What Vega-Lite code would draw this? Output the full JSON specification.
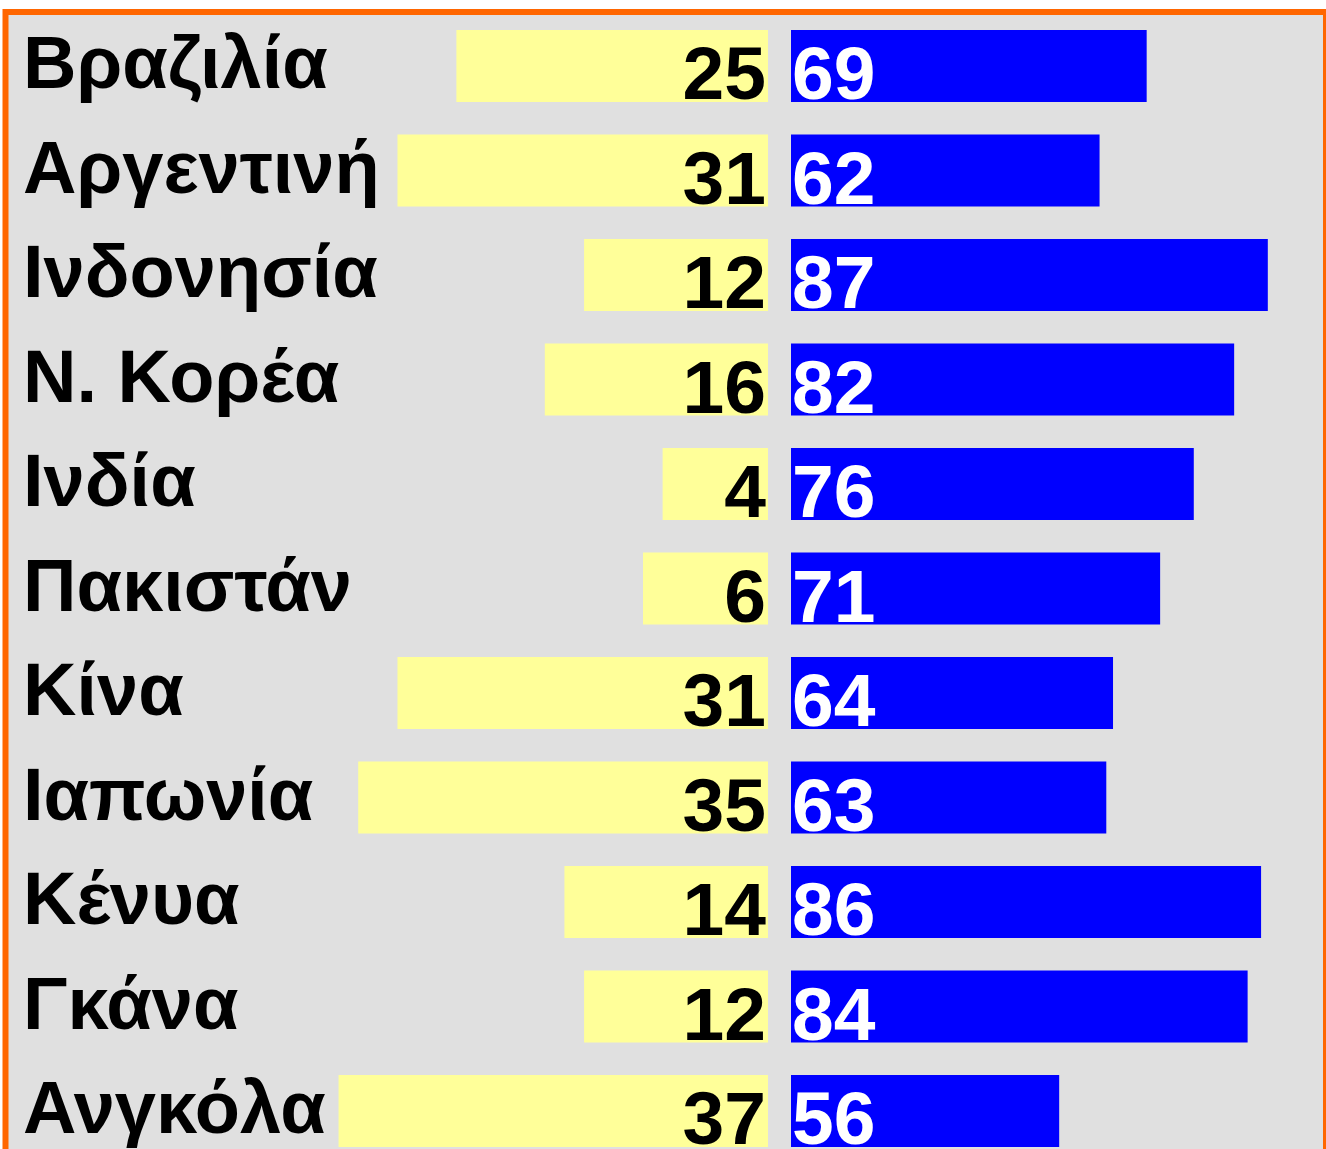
{
  "$schema": "https://vega.github.io/schema/vega-lite/v6.json",
  "width": 1320.5,
  "height": 1141,
  "autosize": {"type": "none"},
  "padding": {"left": 5.5, "top": 12, "right": 0, "bottom": -4},
  "background": "white",
  "config": {"view": {"fill": "#e0e0e0", "stroke": "#ff6600", "strokeWidth": 6}},
  "data": {
    "values": [
      {"country": "Βραζιλία", "yellow": 25, "blue": 69},
      {"country": "Αργεντινή", "yellow": 31, "blue": 62},
      {"country": "Ινδονησία", "yellow": 12, "blue": 87},
      {"country": "Ν. Κορέα", "yellow": 16, "blue": 82},
      {"country": "Ινδία", "yellow": 4, "blue": 76},
      {"country": "Πακιστάν", "yellow": 6, "blue": 71},
      {"country": "Κίνα", "yellow": 31, "blue": 64},
      {"country": "Ιαπωνία", "yellow": 35, "blue": 63},
      {"country": "Κένυα", "yellow": 14, "blue": 86},
      {"country": "Γκάνα", "yellow": 12, "blue": 84},
      {"country": "Ανγκόλα", "yellow": 37, "blue": 56}
    ]
  },
  "encoding": {
    "y": {
      "field": "country",
      "type": "nominal",
      "sort": null,
      "axis": null,
      "scale": {"range": [1.75, 1151.25], "paddingInner": 0.31, "paddingOuter": 0.155}
    }
  },
  "layer": [
    {
      "mark": {"type": "text", "align": "left", "baseline": "alphabetic", "dy": 22, "font": "Liberation Sans", "fontWeight": "bold", "fontSize": 74, "color": "#000000"},
      "encoding": {
        "x": {"datum": 0, "type": "quantitative", "scale": {"domain": [0, 1], "range": [17.5, 1320], "nice": false, "zero": false}, "axis": null},
        "text": {"field": "country", "type": "nominal"}
      }
    },
    {
      "layer": [
        {
          "mark": {"type": "bar", "color": "#ffff99"},
          "encoding": {
            "x": {"field": "yellow", "type": "quantitative", "scale": {"domain": [-6.73, 40], "range": [762.5, 303.6], "nice": false, "zero": false}, "axis": null},
            "x2": {"datum": -6.73}
          }
        },
        {
          "mark": {"type": "text", "align": "right", "baseline": "alphabetic", "dx": -2, "dy": 33, "font": "Liberation Sans", "fontWeight": "bold", "fontSize": 75, "color": "#000000"},
          "encoding": {
            "x": {"datum": -6.73, "type": "quantitative"},
            "text": {"field": "yellow", "type": "quantitative"}
          }
        }
      ]
    },
    {
      "layer": [
        {
          "mark": {"type": "bar", "color": "#0000ff"},
          "encoding": {
            "x": {"field": "blue", "type": "quantitative", "scale": {"domain": [16.15, 100], "range": [785.5, 1349.8], "nice": false, "zero": false}, "axis": null},
            "x2": {"datum": 16.15}
          }
        },
        {
          "mark": {"type": "text", "align": "left", "baseline": "alphabetic", "dx": 1, "dy": 33, "font": "Liberation Sans", "fontWeight": "bold", "fontSize": 75, "color": "#ffffff"},
          "encoding": {
            "x": {"datum": 16.15, "type": "quantitative"},
            "text": {"field": "blue", "type": "quantitative"}
          }
        }
      ]
    }
  ],
  "resolve": {"scale": {"x": "independent"}}
}
